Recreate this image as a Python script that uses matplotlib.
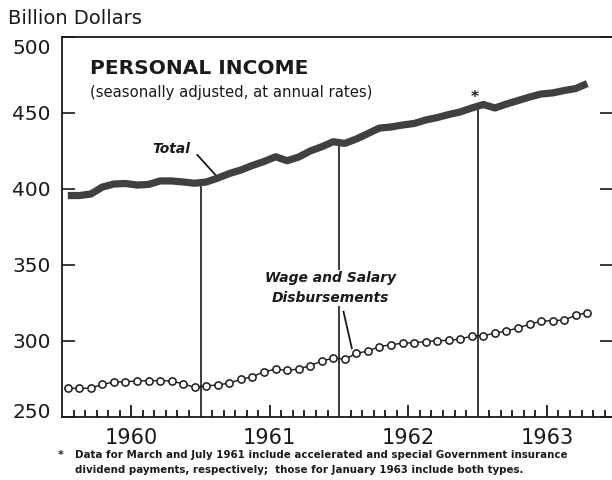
import numpy as np
import matplotlib
matplotlib.use("Agg")
import matplotlib.pyplot as plt
import matplotlib.transforms as mtransforms

# monthly data, Jan 1960 - Oct 1963 (billion dollars, seasonally adjusted annual rates)
START_YEAR = 1960
TOTAL_INCOME = [395.7, 395.7, 396.7, 401.3, 403.3, 403.6, 402.6, 403.0, 405.3, 405.3, 404.6, 403.8,
                404.6, 407.2, 410.2, 412.5, 415.5, 418.1, 421.2, 418.6, 421.0, 425.0, 427.8, 431.1,
                430.0, 432.9, 436.5, 440.1, 440.8, 442.1, 443.1, 445.4, 447.0, 449.0, 450.7, 453.3,
                455.6, 453.3, 455.9, 458.2, 460.5, 462.5, 463.2, 464.8, 466.1, 469.4]
WAGES = [268.9, 268.9, 268.9, 271.5, 273.0, 273.2, 273.7, 273.9, 273.9, 273.7, 271.7, 269.5,
         270.6, 271.0, 272.4, 274.8, 276.5, 279.8, 281.4, 280.7, 281.6, 283.8, 286.8, 288.8,
         288.0, 291.9, 293.4, 296.3, 297.6, 298.5, 298.9, 299.6, 300.2, 300.4, 301.3, 303.3,
         303.5, 305.1, 306.6, 308.6, 311.0, 313.0, 313.4, 313.8, 316.9, 318.6]
YEARS = ["1960", "1961", "1962", "1963"]
Y_TICKS = [250, 300, 350, 400, 450, 500]
MARKED_YEARS = [1961, 1962, 1963]

FONT = "DejaVu Sans"
INK = "#1a1a1a"

fig = plt.figure(figsize=(6.12, 4.8), dpi=100)
ax = fig.add_axes([62 / 612, 1 - 417 / 480, 550 / 612, 380 / 480])

# months plotted at the middle of each month
months = START_YEAR + (np.arange(len(TOTAL_INCOME)) + 0.5) / 12

# vertical year separators, from the axis up to the total line
for yr in MARKED_YEARS:
    top = np.interp(yr, months, TOTAL_INCOME)
    ax.plot([yr, yr], [250, top], color=INK, lw=1.2, zorder=1)

ax.plot(months, TOTAL_INCOME, color="#404040", lw=5.2, solid_capstyle="butt",
        solid_joinstyle="round", zorder=3)
ax.plot(months, WAGES, color=INK, lw=1.0, marker="o", markersize=5.2,
        markerfacecolor="white", markeredgecolor=INK, markeredgewidth=1.1, zorder=3)

ax.set_xlim(1960, 1963.97)
ax.set_ylim(250, 500)

# axis frame: left, top, bottom; right side only has inward ticks
ax.spines["right"].set_visible(False)
for side in ["left", "top", "bottom"]:
    ax.spines[side].set_linewidth(1.3)
    ax.spines[side].set_color(INK)

ax.set_yticks(Y_TICKS)
ax.set_yticklabels([str(v) for v in Y_TICKS], fontsize=14.5, family=FONT, color=INK)
ax.tick_params(axis="y", which="major", direction="in", length=9, width=1.2,
               left=True, right=True, labelright=False, pad=8, color=INK)

# push the end labels inside the frame like the original
offset = mtransforms.ScaledTranslation(0, -10 / 100, fig.dpi_scale_trans)
lbls = ax.get_yticklabels()
lbls[-1].set_transform(lbls[-1].get_transform() + offset)
offset2 = mtransforms.ScaledTranslation(0, 6 / 100, fig.dpi_scale_trans)
lbls[0].set_transform(lbls[0].get_transform() + offset2)

# year labels at mid-year, month ticks pointing up
ax.set_xticks([START_YEAR + i + 0.5 for i in range(len(YEARS))])
ax.set_xticklabels(YEARS, fontsize=15, family=FONT, color=INK)
minor = [START_YEAR + k / 12 for k in range(1, 48) if k % 12 != 0 and k % 12 != 6]
ax.set_xticks(minor, minor=True)
ax.tick_params(axis="x", which="major", direction="in", length=9, width=1.3,
               top=False, pad=8, color=INK)
ax.tick_params(axis="x", which="minor", direction="in", length=5, width=1.3,
               top=False, color=INK)
ax.tick_params(axis="y", which="minor", left=False, right=False)

# titles inside the plot
ax.text(1960.205, 479.6, "PERSONAL INCOME", fontsize=14.5, fontweight="heavy",
        family=FONT, color=INK, ha="left", va="center")
ax.text(1960.205, 463.2, "(seasonally adjusted, at annual rates)", fontsize=10.7,
        family=FONT, color=INK, ha="left", va="center")

# series labels with leader lines
ax.text(1960.789, 426.3, "Total", fontsize=10, fontweight="bold", style="italic",
        family=FONT, color=INK, ha="center", va="center")
ax.plot([1960.977, 1961.114], [422.4, 408.6], color=INK, lw=1.3, zorder=2)

ax.text(1961.936, 334.9, "Wage and Salary\nDisbursements", fontsize=10,
        fontweight="bold", style="italic", family=FONT, color=INK,
        ha="center", va="center", linespacing=1.5, zorder=4,
        bbox=dict(facecolor="white", edgecolor="none", pad=1))
ax.plot([1962.032, 1962.092], [319.3, 295.2], color=INK, lw=1.3, zorder=2)

ax.text(1962.981, 460.5, "*", fontsize=11, fontweight="bold", family=FONT,
        color=INK, ha="center", va="center")

fig.text(8 / 612, 1 - 18 / 480, "Billion Dollars", fontsize=14, family=FONT,
         color=INK, ha="left", va="center")

fig.text(58 / 612, 1 - 455 / 480, "*", fontsize=8, fontweight="bold", family=FONT,
         color=INK, ha="left", va="center")
fig.text(75 / 612, 1 - 455 / 480,
         "Data for March and July 1961 include accelerated and special Government insurance",
         fontsize=7.35, fontweight="bold", family=FONT, color=INK, ha="left", va="center")
fig.text(75 / 612, 1 - 470 / 480,
         "dividend payments, respectively;  those for January 1963 include both types.",
         fontsize=7.35, fontweight="bold", family=FONT, color=INK, ha="left", va="center")

fig.savefig("out.png", dpi=100, facecolor="white")
